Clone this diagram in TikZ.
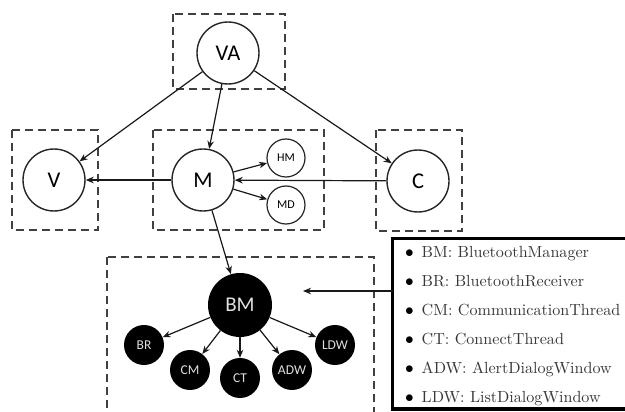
\documentclass[tikz,border=0pt]{standalone}
\usepackage{fontspec}
\newfontfamily\nodefont{Carlito}
\newfontfamily\legfont{lmroman10-regular.otf}
\usetikzlibrary{arrows.meta}

\begin{document}
\begin{tikzpicture}[x=1pt,y=-1pt,
  grp/.style={draw=black!75, dash pattern=on 8pt off 5pt, line width=1.8pt},
  comp/.style={circle, draw=black!85, line width=1.4pt, minimum size=62pt, inner sep=0pt,
    font=\nodefont\fontsize{22.5}{22.5}\selectfont},
  sub/.style={circle, draw=black!85, line width=1.2pt, minimum size=38pt, inner sep=0pt,
    font=\nodefont\fontsize{12}{12}\selectfont},
  bigdark/.style={circle, fill=black, minimum size=64pt, inner sep=0pt, text=white!88!black,
    font=\nodefont\fontsize{21}{21}\selectfont},
  dark/.style={circle, fill=black, minimum size=40pt, inner sep=0pt, text=white!88!black,
    font=\nodefont\fontsize{13.5}{13.5}\selectfont},
  link/.style={-{Stealth[length=8pt,width=6.5pt,inset=2.5pt]}, line width=1.2pt, draw=black!90},
  legtext/.style={anchor=base west, inner sep=0pt, font=\legfont\fontsize{16.1}{16.1}\selectfont, text=black!78},
  legbullet/.style={anchor=base, inner sep=0pt, font=\fontsize{16.1}{16.1}\selectfont}
]
\useasboundingbox (0,0) rectangle (625,412);
\clip (0,0) rectangle (625,412);

% package boxes
\draw[grp] (173,14) rectangle (285,89);
\draw[grp] (12,130) rectangle (98,230);
\draw[grp] (153,130) rectangle (324,230);
\draw[grp] (376,130) rectangle (462,231);
\draw[grp] (107,257) rectangle (374,430);

% top-level components
\node[comp] (VA) at (228,53) {VA};
\node[comp] (V)  at (54,180) {V};
\node[comp] (M)  at (203,180) {M};
\node[comp] (C)  at (418,181) {C};
\node[sub]  (HM) at (286,158) {HM};
\node[sub]  (MD) at (286,205) {MD};

% bluetooth components
\node[bigdark] (BM) at (240,305) {BM};
\node[dark] (BR)  at (144,345) {BR};
\node[dark] (CM)  at (190,370) {CM};
\node[dark] (CT)  at (240,378) {CT};
\node[dark] (ADW) at (292,370) {ADW};
\node[dark] (LDW) at (335,345) {LDW};

% dependencies
\draw[link] (VA) -- (V);
\draw[link] (VA) -- (M);
\draw[link] (VA) -- (C);
\draw[link] (M) -- (V);
\draw[link] (C) -- (M);
\draw[link] (M) -- (HM);
\draw[link] (M) -- (MD);
\draw[link] (M) -- (BM);
\draw[link] (BM) -- (BR);
\draw[link] (BM) -- (CM);
\draw[link] (BM) -- (CT);
\draw[link] (BM) -- (ADW);
\draw[link] (BM) -- (LDW);

% legend: open on the right, running past the edge of the page
\node[fill=white, minimum width=240pt, minimum height=170.5pt,
  anchor=north west, inner sep=0pt, outer sep=0pt] (legend) at (392.5,238.5) {};
\draw[line width=3.5pt, line cap=rect]
  (legend.north east) -- (legend.north west) -- (legend.south west) -- (legend.south east);
\coordinate (legtip) at (303,291);
\draw[link] (legtip -| legend.west) -- (legtip);

\foreach \t [count=\i] in {BM: BluetoothManager, BR: BluetoothReceiver,
    CM: CommunicationThread, CT: ConnectThread, ADW: AlertDialogWindow,
    LDW: ListDialogWindow} {
  \node[legbullet] (b\i) at (409.5,{229.2+28.8*\i}) {$\bullet$};
  \node[legtext] (l\i) at (421.5,{229.2+28.8*\i}) {\t};
}
\end{tikzpicture}
\end{document}
